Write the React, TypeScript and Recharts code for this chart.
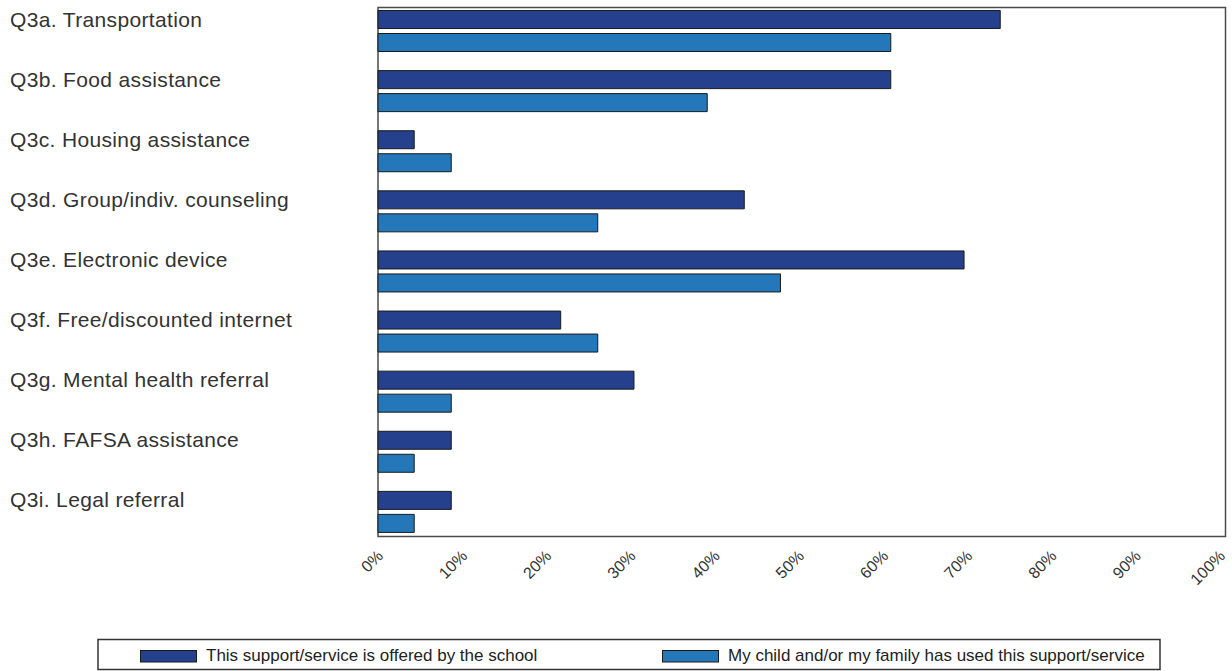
import { BarChart, Bar, XAxis, YAxis } from 'recharts';

const categories = [
  'Q3a. Transportation',
  'Q3b. Food assistance',
  'Q3c. Housing assistance',
  'Q3d. Group/indiv. counseling',
  'Q3e. Electronic device',
  'Q3f. Free/discounted internet',
  'Q3g. Mental health referral',
  'Q3h. FAFSA assistance',
  'Q3i. Legal referral',
];

// percent of respondents
const offeredBySchool = [73.9, 60.9, 4.3, 43.5, 69.6, 21.7, 30.4, 8.7, 8.7];
const usedByFamily = [60.9, 39.1, 8.7, 26.1, 47.8, 26.1, 8.7, 4.3, 4.3];

const xTicks = [0, 10, 20, 30, 40, 50, 60, 70, 80, 90, 100];

const seriesNames = [
  'This support/service is offered by the school',
  'My child and/or my family has used this support/service',
];

const DARK = '#25408d';
const LIGHT = '#2478b9';
const FONT = '"Liberation Sans", Arial, sans-serif';

const data = categories.map((label, i) => ({
  label,
  offered: offeredBySchool[i],
  used: usedByFamily[i],
}));

function CategoryTick({ y, payload }: any) {
  return (
    <text x={10} y={y - 4} textAnchor="start" fontSize={21} letterSpacing={0.35} fill="#333" fontFamily={FONT}>
      {payload.value}
    </text>
  );
}

function PercentTick({ x, y, payload }: any) {
  const ax = x + 6;
  const ay = y + 12;
  return (
    <text
      x={ax}
      y={ay}
      transform={`rotate(-45, ${ax}, ${ay})`}
      textAnchor="end"
      fontSize={16}
      fill="#333"
      fontFamily={FONT}
    >
      {`${payload.value}%`}
    </text>
  );
}

function LegendBox() {
  const colors = [DARK, LIGHT];
  const swatchX = [140, 662];
  return (
    <svg width={1232} height={671} style={{ position: 'absolute', left: 0, top: 0, pointerEvents: 'none' }}>
      <rect x={98} y={639.5} width={1062} height={30} fill="none" stroke="#333" strokeWidth={1.5} />
      {seriesNames.map((name, i) => (
        <g key={name}>
          <rect x={swatchX[i] + 0.5} y={650.5} width={56} height={11.5} fill={colors[i]} stroke="#1a1a1a" />
          <text x={swatchX[i] + 66} y={661} fontSize={17} fill="#222" fontFamily={FONT}>
            {name}
          </text>
        </g>
      ))}
    </svg>
  );
}

export default function App() {
  return (
    <div style={{ position: 'absolute', left: 0, top: 0, width: 1232, height: 671, background: '#fff' }}>
      <BarChart
        width={1232}
        height={671}
        data={data}
        layout="vertical"
        margin={{ top: 7, right: 6, bottom: 74, left: 0 }}
        barSize={18}
        barGap={5}
      >
        <XAxis
          type="number"
          domain={[0, 100]}
          ticks={xTicks}
          height={60}
          axisLine={false}
          tickLine={false}
          tick={<PercentTick />}
          interval={0}
          padding={{ left: 0, right: 6 }}
        />
        <YAxis
          type="category"
          dataKey="label"
          width={378}
          axisLine={false}
          tickLine={false}
          tick={<CategoryTick />}
          interval={0}
          padding={{ top: -6.5, bottom: -4.5 }}
        />
        <Bar dataKey="offered" fill={DARK} stroke="#1a1a1a" strokeWidth={1} isAnimationActive={false} />
        <Bar dataKey="used" fill={LIGHT} stroke="#1a1a1a" strokeWidth={1} isAnimationActive={false} />
        <rect x={378} y={7.5} width={847.5} height={529} fill="none" stroke="#4a4a4a" strokeWidth={1.5} />
      </BarChart>
      <LegendBox />
    </div>
  );
}
